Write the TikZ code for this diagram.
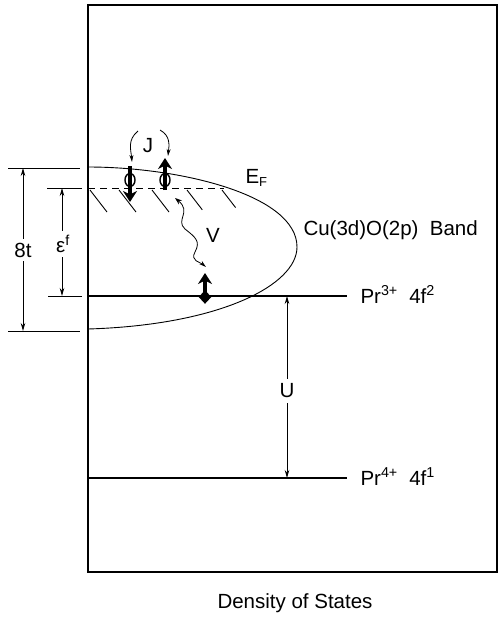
\documentclass[tikz,border=0pt]{standalone}
\usepackage{fontspec}
\setmainfont{Liberation Sans}
\usetikzlibrary{arrows.meta,shapes.geometric}
\begin{document}
\begin{tikzpicture}[x=1pt,y=-1pt,line width=1pt,
  lbl/.style={font=\fontsize{20.5}{22}\selectfont, inner sep=0pt},
  dimarrow/.style={{Stealth[length=8pt,width=4.5pt]}-{Stealth[length=8pt,width=4.5pt]}, line width=0.8pt},
  dimline/.style={line width=0.8pt},
  spinarrow/.style={-{Stealth[length=11pt,width=14pt,inset=3.5pt]}, line width=3.2pt},
  thinarrow/.style={-{Stealth[length=7pt,width=4pt]}, line width=0.8pt},
  level/.style={line width=1.3pt},
  hatch/.style={line width=0.9pt},
  ring/.style={ellipse, draw, line width=1.4pt, minimum width=10pt, minimum height=13pt, inner sep=0pt}]
\useasboundingbox (0,0) rectangle (499,619);
% frame
\draw[line width=1.3pt] (88,5) rectangle (497,572);
% band
\draw[line width=0.9pt] (88,167) .. controls (180,167) and (297,195) .. (297,247)
  .. controls (297,285) and (220,325) .. (88,329);
% levels
\coordinate (f2L) at (88,296); \coordinate (f2R) at (347,296);
\coordinate (f1L) at (88,478); \coordinate (f1R) at (347,478);
\draw[level] (f2L) -- (f2R);
\draw[level] (f1L) -- (f1R);
% Fermi level
\coordinate (efL) at (88,188); \coordinate (efR) at (224,188);
\draw[line width=0.9pt, dash pattern=on 7pt off 5pt] (efL) -- (efR);
\foreach \x/\l in {90/1,119/1,152/1,187/0.9,222/0.8}
  \draw[hatch] (\x,190) -- ++(17*\l,22*\l);
% 8t dimension
\coordinate (t1a) at (8,168); \coordinate (t1b) at (80,168);
\coordinate (t2a) at (8,331); \coordinate (t2b) at (80,331);
\draw[dimline] (t1a) -- (t1b);
\draw[dimline] (t2a) -- (t2b);
\coordinate (t8top) at (23,168); \coordinate (t8bot) at (23,331);
\draw[dimarrow] (t8top) -- (t8bot);
\node[lbl, fill=white, inner sep=4pt] (eightt) at (23,250) {8t};
% epsilon^f dimension
\coordinate (e1a) at (47,188); \coordinate (e1b) at (82,188);
\coordinate (e2a) at (48,296); \coordinate (e2b) at (82,296);
\draw[dimline] (e1a) -- (e1b);
\draw[dimline] (e2a) -- (e2b);
\coordinate (eftop) at (62,188); \coordinate (efbot) at (62,296);
\draw[dimarrow] (eftop) -- (efbot);
\node[lbl, fill=white, inner sep=4pt] (epsf) at (63,244) {ε\textsuperscript{f}};
% U dimension
\coordinate (utop) at (287,296); \coordinate (ubot) at (287,478);
\draw[dimarrow] (utop) -- (ubot);
\node[lbl, fill=white, inner sep=5pt] (Ulbl) at (287,391) {U};
% spins at Fermi level
\coordinate (sdTop) at (130,166); \coordinate (sdBot) at (130,202);
\draw[spinarrow] (sdTop) -- (sdBot);
\node[ring] (ringA) at (130,180) {};
\coordinate (suBot) at (165,190); \coordinate (suTop) at (165,158);
\draw[spinarrow] (suBot) -- (suTop);
\node[ring] (ringB) at (165,180) {};
% J arrows
\node[lbl] (J) at (148,146) {J};
\coordinate (jaS) at (138,131); \coordinate (jaE) at (132,162);
\coordinate (jbS) at (160,130); \coordinate (jbE) at (168,156);
\draw[thinarrow] (jaS) .. controls (127,140) and (131,150) .. (jaE);
\draw[thinarrow] (jbS) .. controls (171,136) and (169,146) .. (jbE);
% Pr3+ electron
\node[diamond, fill=black, minimum width=13pt, minimum height=14pt, inner sep=0pt] (dia) at (205,297) {};
\coordinate (f2spinTop) at (205,273);
\draw[spinarrow] (dia.center) -- (f2spinTop);
% V hybridization
\coordinate (vS) at (175,198); \coordinate (vE) at (206,267);
\draw[{Stealth[length=7pt,width=5pt]}-{Stealth[length=7pt,width=4pt]}, line width=0.8pt]
  (vS) .. controls (192,212) and (175,220) .. (185,229)
  .. controls (195,237) and (201,241) .. (195,252)
  .. controls (190,261) and (200,262) .. (vE);
\node[lbl] (Vlbl) at (213,235) {V};
% labels
\node[lbl, anchor=base west] (EF) at (245,183) {E{\fontsize{13}{13}\selectfont\raisebox{-0.25em}{F}}};
\node[lbl, anchor=base west] (band) at (303,235) {Cu(3d)O(2p)~ Band};
\node[lbl, anchor=base west] (pr3) at (360,303) {Pr\textsuperscript{3+}~ 4f\textsuperscript{2}};
\node[lbl, anchor=base west] (pr4) at (360,485) {Pr\textsuperscript{4+}~ 4f\textsuperscript{1}};
\node[lbl, anchor=base] (dos) at (295,608) {Density of States};
\end{tikzpicture}
\end{document}
